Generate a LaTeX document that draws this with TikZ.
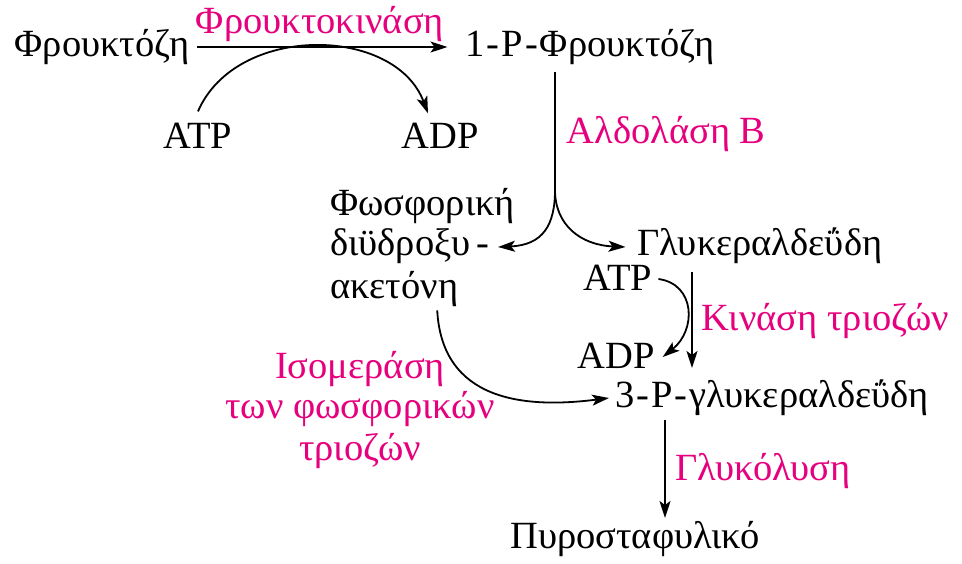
\documentclass[tikz,border=0pt]{standalone}
\usepackage{fontspec}
\setmainfont{Liberation Serif}
\usetikzlibrary{arrows.meta}
\definecolor{enz}{RGB}{230,0,126}
% hyphen with a little air on both sides
\newcommand{\hy}{\kern2pt-\kern2pt}
\begin{document}
\begin{tikzpicture}[x=1pt,y=-1pt,
  lbl/.style={anchor=base,inner sep=0pt,font=\fontsize{38.5}{44}\selectfont},
  lblw/.style={lbl,anchor=base west},
  enzyme/.style={lbl,text=enz},
  ln/.style={line width=1.8pt},
  arr/.style={ln,-{Stealth[length=17pt,width=11pt,inset=4pt]}}]
\useasboundingbox (0,0) rectangle (962,563);

% metabolites
\node[lbl] (fru)  at (102,56)  {Φρουκτόζη};
\node[lbl] (p1)   at (590,56)  {1\hy P\hy Φρουκτόζη};
\node[lbl] (atpA) at (198,148) {ATP};
\node[lbl] (adpA) at (440,148) {ADP};
\node[lblw] (dhapA) at (330,215) {Φωσφορική};
\node[lblw] (dhapB) at (330,255) {διϋδροξυ\,-};
\node[lblw] (dhapC) at (330,298) {ακετόνη};
\node[lbl] (gap)  at (760,255) {Γλυκεραλδεΰδη};
\node[lbl] (atpB) at (618,290) {ATP};
\node[lbl] (adpB) at (616,368) {ADP};
\node[lbl] (g3p)  at (772,407) {3\hy P\hy γλυκεραλδεΰδη};
\node[lbl] (pyr)  at (635,548) {Πυροσταφυλικό};

% enzymes
\node[enzyme] (fk)   at (320,33)  {Φρουκτοκινάση};
\node[enzyme] (ald)  at (666,143) {Αλδολάση Β};
\node[enzyme] (tk)   at (825,330) {Κινάση τριοζών};
\node[enzyme] (isoA) at (360,378) {Ισομεράση};
\node[enzyme] (isoB) at (360,418) {των φωσφορικών};
\node[enzyme] (isoC) at (360,460) {τριοζών};
\node[enzyme] (gly)  at (763,480) {Γλυκόλυση};

% fructokinase step
\draw[arr] ([xshift=8pt,yshift=9pt]fru.base east) -- ([xshift=-18pt,yshift=9pt]p1.base west);
\draw[arr] ([yshift=11pt]atpA.north) .. controls +(38,-88) and +(-33,-88) ..
  ([xshift=-12pt,yshift=9pt]adpA.north);

% aldolase B splits the chain
\coordinate (fork) at (555,190);
\draw[ln] (fork |- p1.south) ++(0,8) -- (fork);
\draw[arr] (fork) .. controls +(0,35) and +(45,-2) .. ([xshift=8pt,yshift=8pt]dhapB.base east);
\draw[arr] (fork) .. controls +(0,35) and +(-45,-2) .. ([xshift=-12pt,yshift=8pt]gap.base west);

% triose kinase
\draw[arr] ([xshift=6pt,yshift=11pt]atpB.base east) .. controls +(37,5) and +(34,-27) ..
  ([xshift=8pt,yshift=11pt]adpB.base east);
\coordinate (tkTop) at (692,272);
\draw[arr] (tkTop) -- ++(0,96);

% triose phosphate isomerase
\draw[arr] ([xshift=43pt,yshift=-4pt]dhapC.south) .. controls +(5,90) and +(-86,11) ..
  ([xshift=-6pt,yshift=9pt]g3p.base west);

% glycolysis
\coordinate (glyTop) at (665,420);
\draw[arr] (glyTop) -- ++(0,98);
\end{tikzpicture}
\end{document}
